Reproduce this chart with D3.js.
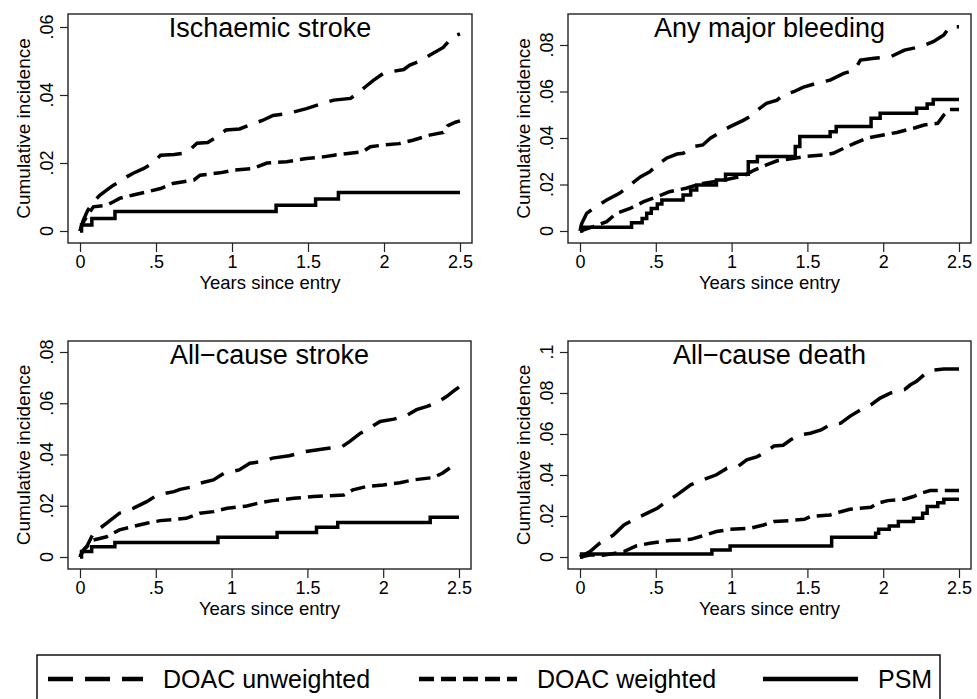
<!DOCTYPE html>
<html>
<head>
<meta charset="utf-8">
<script src="https://cdn.jsdelivr.net/npm/d3@7"></script>
<style>
  body { margin: 0; background: #fff; }
  svg { display: block; font-family: "Liberation Sans", Arial, sans-serif; }
</style>
</head>
<body>
<svg id="chart" width="977" height="699"></svg>
<script>
// chart data
const panelTitles = ["Ischaemic stroke", "Any major bleeding", "All\u2212cause stroke", "All\u2212cause death"];
const xTicks = [0, 0.5, 1, 1.5, 2, 2.5];
const xTickLabels = ["0", ".5", "1", "1.5", "2", "2.5"];
const yTicks = [
  [0, 0.02, 0.04, 0.06],
  [0, 0.02, 0.04, 0.06, 0.08],
  [0, 0.02, 0.04, 0.06, 0.08],
  [0, 0.02, 0.04, 0.06, 0.08, 0.1]
];
const yTickLabels = [
  ["0", ".02", ".04", ".06"],
  ["0", ".02", ".04", ".06", ".08"],
  ["0", ".02", ".04", ".06", ".08"],
  ["0", ".02", ".04", ".06", ".08", ".1"]
];
const seriesNames = ["DOAC unweighted", "DOAC weighted", "PSM"];

// [years, cumulative incidence]
const ischUnweighted = [[0,0],[.02,.003],[.05,.006],[.088,.0086],[.13,.0105],[.175,.012],[.22,.0135],[.26,.0145],[.31,.016],[.35,.017],[.42,.0184],[.48,.020],[.53,.0223],[.62,.0225],[.70,.023],[.77,.0258],[.84,.026],[.90,.0277],[.96,.0297],[1.05,.030],[1.14,.0316],[1.2,.0325],[1.27,.034],[1.36,.0345],[1.49,.036],[1.56,.037],[1.67,.0385],[1.78,.039],[1.84,.041],[1.88,.0425],[1.93,.0443],[2.0,.0465],[2.13,.0475],[2.17,.0488],[2.24,.050],[2.30,.0517],[2.39,.054],[2.43,.056],[2.47,.0575],[2.5,.058]];
const ischWeighted = [[0,0],[.02,.0025],[.044,.0042],[.088,.0071],[.175,.0076],[.22,.0086],[.26,.0096],[.35,.0106],[.44,.0115],[.53,.0125],[.61,.014],[.75,.015],[.79,.0164],[.92,.0171],[1.01,.0179],[1.14,.0184],[1.23,.020],[1.36,.0204],[1.49,.0213],[1.60,.0218],[1.67,.0223],[1.86,.0233],[1.91,.0248],[2.0,.0253],[2.10,.0257],[2.19,.0267],[2.30,.0282],[2.39,.029],[2.42,.031],[2.47,.032],[2.5,.0324]];
const ischPSM = [[0,0],[.01,.0018],[.078,.0037],[.23,.0057],[1.29,.0076],[1.55,.0094],[1.70,.0113],[2.5,.0113]];

const bleedUnweighted = [[0,0],[.01,.003],[.044,.0076],[.088,.0097],[.176,.0133],[.26,.0162],[.33,.0198],[.40,.0234],[.46,.0255],[.51,.0284],[.57,.0313],[.64,.0331],[.68,.0334],[.75,.0363],[.81,.037],[.86,.0399],[.93,.0427],[.99,.0449],[1.08,.0477],[1.12,.0492],[1.17,.052],[1.23,.0549],[1.30,.0563],[1.34,.0585],[1.41,.0599],[1.47,.0618],[1.56,.0635],[1.65,.0649],[1.74,.0678],[1.81,.0692],[1.85,.0735],[1.94,.0743],[2.05,.075],[2.14,.0778],[2.25,.0793],[2.33,.0814],[2.40,.0843],[2.44,.0879],[2.5,.0879]];
const bleedWeighted = [[0,0],[.088,.0019],[.176,.004],[.24,.0076],[.33,.0097],[.42,.0126],[.51,.0148],[.59,.0169],[.70,.0184],[.81,.0205],[.95,.0219],[1.08,.0237],[1.15,.0262],[1.23,.0284],[1.30,.0302],[1.34,.0305],[1.48,.032],[1.61,.0327],[1.67,.0334],[1.74,.0356],[1.81,.0377],[1.89,.0399],[2.0,.0413],[2.09,.0424],[2.20,.0442],[2.27,.0456],[2.36,.0463],[2.40,.0499],[2.44,.0523],[2.5,.0523]];
const bleedPSM = [[0,0],[.01,.0016],[.34,.0036],[.41,.0054],[.44,.0076],[.47,.0097],[.51,.0116],[.54,.0133],[.68,.0155],[.73,.0176],[.77,.0198],[.90,.0219],[.96,.0244],[1.11,.0298],[1.17,.032],[1.42,.0363],[1.45,.0406],[1.65,.0427],[1.69,.0449],[1.92,.0485],[1.98,.0506],[2.22,.0528],[2.29,.0546],[2.33,.0566],[2.5,.0566]];

const strokeUnweighted = [[0,0],[.02,.0025],[.044,.004],[.088,.0093],[.176,.0132],[.26,.0171],[.35,.019],[.44,.0216],[.51,.0242],[.62,.0255],[.66,.0264],[.75,.0275],[.79,.0288],[.88,.0301],[.95,.0327],[1.05,.034],[1.12,.0366],[1.21,.0373],[1.27,.0386],[1.38,.0395],[1.49,.0412],[1.65,.0425],[1.73,.0431],[1.78,.0451],[1.85,.0483],[1.91,.0503],[1.98,.0529],[2.07,.0538],[2.15,.0551],[2.22,.0575],[2.29,.0588],[2.35,.0601],[2.42,.0627],[2.47,.065],[2.5,.0663]];
const strokeWeighted = [[0,0],[.02,.0025],[.044,.004],[.088,.0066],[.176,.0079],[.26,.0106],[.35,.0119],[.44,.0132],[.53,.0142],[.70,.0151],[.79,.0171],[.88,.0177],[.97,.019],[1.10,.0199],[1.19,.0212],[1.27,.022],[1.41,.0229],[1.54,.0236],[1.74,.0242],[1.80,.0262],[1.89,.0275],[2.0,.0281],[2.11,.029],[2.20,.0301],[2.33,.031],[2.39,.0327],[2.46,.0356],[2.47,.0356]];
const strokePSM = [[0,0],[.01,.0021],[.077,.004],[.23,.0057],[.91,.0077],[1.30,.0096],[1.56,.0116],[1.70,.0135],[2.31,.0155],[2.5,.0155]];

const deathUnweighted = [[0,0],[.03,.0012],[.066,.0026],[.13,.0067],[.22,.0107],[.29,.0156],[.35,.0181],[.44,.0213],[.51,.0238],[.57,.027],[.64,.0303],[.73,.0352],[.81,.0376],[.90,.0401],[.97,.0433],[1.04,.0441],[1.10,.0474],[1.17,.049],[1.23,.0515],[1.28,.0542],[1.34,.0545],[1.39,.0572],[1.45,.0596],[1.52,.0604],[1.59,.062],[1.65,.0645],[1.72,.0653],[1.78,.0686],[1.85,.0718],[1.92,.0743],[1.98,.0775],[2.05,.08],[2.14,.0816],[2.18,.084],[2.22,.0857],[2.27,.0889],[2.31,.091],[2.40,.0917],[2.5,.0917]];
const deathWeighted = [[0,0],[.066,.001],[.15,.0008],[.29,.0026],[.37,.0054],[.46,.0067],[.59,.008],[.73,.0086],[.81,.0103],[.90,.0124],[.99,.0135],[1.12,.014],[1.21,.0156],[1.28,.0173],[1.39,.0178],[1.48,.0184],[1.52,.0197],[1.65,.0205],[1.72,.0221],[1.78,.0233],[1.92,.0243],[1.96,.0262],[2.03,.0275],[2.14,.0282],[2.20,.0295],[2.25,.0311],[2.31,.0324],[2.5,.0324]];
const deathPSM = [[0,0],[.01,.0015],[.87,.0034],[.99,.0054],[1.66,.0096],[1.95,.0116],[1.97,.0135],[2.04,.0151],[2.10,.0173],[2.20,.0189],[2.26,.0213],[2.29,.0246],[2.36,.0265],[2.40,.0282],[2.5,.0282]];

const panelSeries = [
  [ischUnweighted, ischWeighted, ischPSM],
  [bleedUnweighted, bleedWeighted, bleedPSM],
  [strokeUnweighted, strokeWeighted, strokePSM],
  [deathUnweighted, deathWeighted, deathPSM]
];

// layout
const boxes = [
  { left: 68,  top: 14,  right: 472, bottom: 243, topPad: 13 },
  { left: 568, top: 14,  right: 971, bottom: 243, topPad: 31 },
  { left: 68,  top: 341, right: 471, bottom: 569, topPad: 11 },
  { left: 568, top: 341, right: 971, bottom: 569, topPad: 11 }
];
const dashes = ["25,12", "15,7", null];
// DOAC curves are read as samples along the curve, PSM as its actual steps
const curves = [d3.curveLinear, d3.curveLinear, d3.curveStepAfter];

const svg = d3.select("#chart");

boxes.forEach((b, i) => {
  const g = svg.append("g");
  const x = d3.scaleLinear().domain([0, 2.5]).range([b.left + 12, b.right - 12]);
  const yT = yTicks[i];
  const y = d3.scaleLinear().domain([0, yT[yT.length - 1]]).range([b.bottom - 12, b.top + b.topPad]);

  // curves
  panelSeries[i].forEach((s, k) => {
    const line = d3.line().curve(curves[k]).x(d => x(d[0])).y(d => y(d[1]));
    g.append("path")
      .datum(s)
      .attr("d", line)
      .attr("fill", "none")
      .attr("stroke", "#000")
      .attr("stroke-width", 3.5)
      .attr("stroke-linecap", "butt")
      .attr("stroke-dasharray", dashes[k]);
  });

  g.append("rect")
    .attr("x", b.left).attr("y", b.top)
    .attr("width", b.right - b.left).attr("height", b.bottom - b.top)
    .attr("fill", "none").attr("stroke", "#222").attr("stroke-width", 1.4);

  // x axis
  const xa = g.append("g").attr("transform", `translate(0,${b.bottom})`)
    .call(d3.axisBottom(x).tickValues(xTicks).tickSize(9).tickPadding(3)
      .tickFormat((d, j) => xTickLabels[j]));
  xa.select(".domain").remove();
  xa.selectAll("line").attr("stroke", "#222").attr("stroke-width", 1.2);
  xa.selectAll("text").attr("font-size", 18).attr("font-family", "Liberation Sans, Arial, sans-serif").attr("fill", "#000");

  // y axis: vertical tick labels
  const ya = g.append("g").attr("transform", `translate(${b.left},0)`)
    .call(d3.axisLeft(y).tickValues(yT).tickSize(8).tickFormat(""));
  ya.select(".domain").remove();
  ya.selectAll("line").attr("stroke", "#222").attr("stroke-width", 1.2);
  yT.forEach((v, j) => {
    g.append("text")
      .attr("transform", `translate(${b.left - 15},${y(v)}) rotate(-90)`)
      .attr("text-anchor", "middle")
      .attr("font-size", 18)
      .text(yTickLabels[i][j]);
  });

  // titles
  g.append("text")
    .attr("x", (b.left + b.right) / 2).attr("y", b.top + 23)
    .attr("text-anchor", "middle").attr("font-size", 27)
    .text(panelTitles[i]);
  g.append("text")
    .attr("x", (b.left + b.right) / 2).attr("y", b.bottom + 46)
    .attr("text-anchor", "middle").attr("font-size", 18.5)
    .text("Years since entry");
  g.append("text")
    .attr("transform", `translate(${b.left - 38},${(b.top + b.bottom) / 2}) rotate(-90)`)
    .attr("text-anchor", "middle").attr("font-size", 19)
    .text("Cumulative incidence");
});

// legend
const legend = svg.append("g");
legend.append("rect")
  .attr("x", 37).attr("y", 655).attr("width", 903).attr("height", 50)
  .attr("fill", "none").attr("stroke", "#000").attr("stroke-width", 1.4);
const keyStarts = [48, 419, 763];
const keyWidths = [95, 98, 95];
seriesNames.forEach((name, k) => {
  legend.append("line")
    .attr("x1", keyStarts[k]).attr("x2", keyStarts[k] + keyWidths[k])
    .attr("y1", 679).attr("y2", 679)
    .attr("stroke", "#000").attr("stroke-width", 4.5)
    .attr("stroke-dasharray", dashes[k]);
  legend.append("text")
    .attr("x", keyStarts[k] + keyWidths[k] + 20).attr("y", 688)
    .attr("font-size", 25)
    .text(name);
});
</script>
</body>
</html>
